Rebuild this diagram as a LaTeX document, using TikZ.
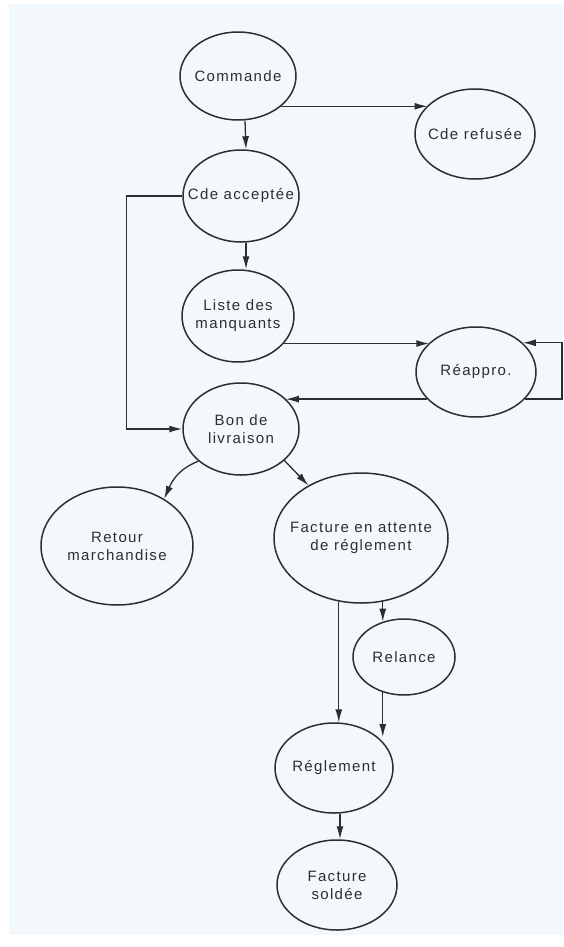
\documentclass[tikz,border=0pt]{standalone}
\usepackage{fontspec}
\setmainfont{Liberation Sans}[LetterSpace=9]
\usetikzlibrary{shapes.geometric,arrows.meta}
\definecolor{bg}{HTML}{F2F8FC}
\definecolor{ink}{HTML}{2E2E2E}
\begin{document}
\begin{tikzpicture}[x=1pt,y=-1pt,
  st/.style 2 args={draw=ink, line width=1.5pt, ellipse, inner sep=0pt, minimum width=#1, minimum height=#2},
  txt/.style={text=ink, align=center, inner sep=0pt, font=\fontsize{15}{18}\selectfont},
  arr/.style={draw=ink, line width=1.3pt, -{Latex[length=13pt,width=7pt]}}]
\useasboundingbox (0,0) rectangle (563,947);
\fill[white] (0,0) rectangle (563,947);
\fill[bg] (9,4) rectangle (563,935);

\node[st={116}{88}] (cmd) at (238,76) {};
\node[txt] (cmd-t) at (cmd) {Commande};
\node[st={120}{90}] (ref) at (475,134) {};
\node[txt] (ref-t) at (ref) {Cde refusée};
\node[st={116}{92}] (acc) at (241,196) {};
\node[txt] (acc-t) at (acc) {Cde acceptée};
\node[st={112}{92}] (lst) at (238,316) {};
\node[txt] (lst-t) at (lst) {Liste des\\manquants};
\node[st={120}{90}] (rea) at (476,372) {};
\node[txt] (rea-t) at (rea) {Réappro.};
\node[st={116}{92}] (bon) at (241,429) {};
\node[txt] (bon-t) at (bon) {Bon de\\livraison};
\node[st={152}{118}] (ret) at (117,546) {};
\node[txt] (ret-t) at (ret) {Retour\\marchandise};
\node[st={174}{130}] (fac) at (361,538) {};
\node[txt] (fac-t) at (fac) {Facture en attente\\de réglement};
\node[st={102}{76}] (rel) at (404,657) {};
\node[txt] (rel-t) at (rel) {Relance};
\node[st={118}{90}] (reg) at (334,768) {};
\node[txt] (reg-t) at (reg) {Réglement};
\node[st={120}{90}] (sol) at (337,885) {};
\node[txt] (sol-t) at (sol) {Facture\\soldée};

\draw[arr] ([xshift=7pt]cmd.south) -- ([xshift=5pt]acc.north);
\draw[arr] ([xshift=5pt]acc.south) -- ([xshift=8pt]lst.north);
\draw[arr] (cmd.-35) -- (cmd.-35 -| ref.149);
\draw[arr] (acc.west) -- ++(-56,0) |- (bon.west);
\draw[arr] (lst.-31) -- (lst.-31 -| rea.148);
\draw[arr] (rea.209) -- (rea.209 -| bon.34);
\draw[arr] (rea.-29) -- ++(37,0) |- (rea.32);
\draw[arr] (bon.217) .. controls +(-20,8) and +(8,-18) .. (ret.45);
\draw[arr] (bon.-36) -- (fac.135);
\draw[arr] (fac.-71 -| rel.121) -- (rel.121);
\draw[arr] (fac.-109 -| reg.84) -- (reg.84);
\draw[arr] (rel.-121) -- (rel.-121 |- reg.35);
\draw[arr] ([xshift=6pt]reg.south) -- ([xshift=3pt]sol.north);
\end{tikzpicture}
\end{document}
